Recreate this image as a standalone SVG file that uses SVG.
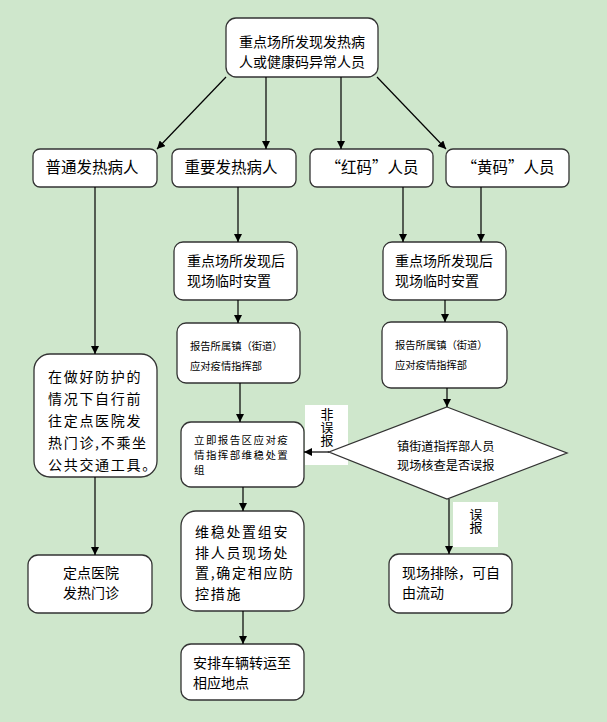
<svg xmlns="http://www.w3.org/2000/svg" width="607" height="722" viewBox="0 0 607 722">
<style>
.bx{fill:#fff;stroke:#333;stroke-width:1.3}
.t{font-family:"Noto Sans CJK SC","Liberation Sans",sans-serif;fill:#000}
.f16{font-size:15.5px}
.f14{font-size:14px}
.f14s{font-size:14px;letter-spacing:1.7px}
.f10{font-size:10.3px}
.f11{font-size:10.5px;letter-spacing:1.4px}
.f12{font-size:12.2px}
.v{font-size:13px;writing-mode:vertical-rl}
.c{stroke:#000;stroke-width:1.2;fill:none;marker-end:url(#ah)}
.lb{fill:#fff}
</style>
<defs>
<marker id="ah" viewBox="0 0 10 10" refX="10" refY="5" markerWidth="8" markerHeight="8" markerUnits="userSpaceOnUse" orient="auto">
<path d="M0,0 L10,5 L0,10 z" fill="#000"/>
</marker>
</defs>
<rect width="607" height="722" fill="#CFE7CC"/>
<g id="labels">
<g id="lbl-nonfalse"><rect class="lb" x="305" y="405" width="43" height="60"/>
<text class="t v" x="327" y="408">非误报</text></g>
<g id="lbl-false"><rect class="lb" x="453" y="502" width="45" height="45"/>
<text class="t v" x="476" y="508">误报</text></g>
</g>
<g id="n-top"><rect class="bx" x="226" y="18" width="152" height="59" rx="10"/>
<text class="t f14" x="302" y="47" text-anchor="middle">重点场所发现发热病</text>
<text class="t f14" x="302" y="66.5" text-anchor="middle">人或健康码异常人员</text></g>
<g id="n-normal"><rect class="bx" x="33" y="149" width="124" height="38" rx="7"/>
<text class="t f16" x="92" y="173" text-anchor="middle">普通发热病人</text></g>
<g id="n-important"><rect class="bx" x="172" y="149" width="124" height="38" rx="7"/>
<text class="t f16" x="231" y="173" text-anchor="middle">重要发热病人</text></g>
<g id="n-red"><rect class="bx" x="310" y="149" width="123" height="38" rx="7"/>
<text class="t f16" x="372" y="173" text-anchor="middle">“红码”人员</text></g>
<g id="n-yellow"><rect class="bx" x="446" y="149" width="123" height="38" rx="7"/>
<text class="t f16" x="508" y="173" text-anchor="middle">“黄码”人员</text></g>
<g id="n-temp-left"><rect class="bx" x="174" y="242" width="123" height="58" rx="9"/>
<text class="t f14" x="187" y="266">重点场所发现后</text>
<text class="t f14" x="187" y="286">现场临时安置</text></g>
<g id="n-temp-right"><rect class="bx" x="383" y="242" width="123" height="58" rx="9"/>
<text class="t f14" x="395" y="266">重点场所发现后</text>
<text class="t f14" x="395" y="286">现场临时安置</text></g>
<g id="n-report-left"><rect class="bx" x="177" y="323" width="123" height="60" rx="9"/>
<text class="t f10" x="190" y="350">报告所属镇（街道）</text>
<text class="t f10" x="190" y="370">应对疫情指挥部</text></g>
<g id="n-report-right"><rect class="bx" x="382" y="322" width="125" height="66" rx="9"/>
<text class="t f10" x="395" y="349">报告所属镇（街道）</text>
<text class="t f10" x="395" y="369">应对疫情指挥部</text></g>
<g id="n-self"><rect class="bx" x="34" y="354" width="123" height="123" rx="16"/>
<text class="t f14s" x="48" y="382">在做好防护的</text>
<text class="t f14s" x="48" y="404">情况下自行前</text>
<text class="t f14s" x="48" y="426">往定点医院发</text>
<text class="t f14s" x="48" y="448">热门诊,不乘坐</text>
<text class="t f14s" x="48" y="470">公共交通工具。</text></g>
<g id="n-hospital"><rect class="bx" x="28" y="555" width="124" height="58" rx="10"/>
<text class="t f14" x="91" y="578" text-anchor="middle">定点医院</text>
<text class="t f14" x="91" y="598" text-anchor="middle">发热门诊</text></g>
<g id="n-district"><rect class="bx" x="181" y="422" width="123" height="65" rx="10"/>
<text class="t f11" x="194" y="444">立即报告区应对疫</text>
<text class="t f11" x="194" y="459">情指挥部维稳处置</text>
<text class="t f11" x="194" y="474">组</text></g>
<g id="n-check"><polygon class="bx" points="447,407 567,453 447,499 329,452"/>
<text class="t f12" x="397" y="451">镇街道指挥部人员</text>
<text class="t f12" x="397" y="470">现场核查是否误报</text></g>
<g id="n-stable"><rect class="bx" x="181" y="511" width="123" height="100" rx="15"/>
<text class="t f14s" x="195" y="537">维稳处置组安</text>
<text class="t f14s" x="195" y="558">排人员现场处</text>
<text class="t f14s" x="195" y="578">置,确定相应防</text>
<text class="t f14s" x="195" y="599">控措施</text></g>
<g id="n-transport"><rect class="bx" x="181" y="644" width="123" height="56" rx="10"/>
<text class="t f14" x="193" y="668">安排车辆转运至</text>
<text class="t f14" x="193" y="688">相应地点</text></g>
<g id="n-release"><rect class="bx" x="389" y="554" width="123" height="59" rx="10"/>
<text class="t f14" x="402" y="578">现场排除，可自</text>
<text class="t f14" x="402" y="598">由流动</text></g>
<g id="connectors">
<path class="c" d="M226,77 L157,149"/>
<path class="c" d="M266,77 L266,149"/>
<path class="c" d="M341,77 L341,149"/>
<path class="c" d="M377,77 L446,149"/>
<path class="c" d="M95,187 L95,354"/>
<path class="c" d="M238,187 L238,242"/>
<path class="c" d="M403,187 L403,242"/>
<path class="c" d="M481,187 L481,242"/>
<path class="c" d="M238,300 L238,323"/>
<path class="c" d="M445,300 L445,322"/>
<path class="c" d="M240,383 L240,422"/>
<path class="c" d="M447,388 L447,407"/>
<path class="c" d="M329,452 L304,452"/>
<path class="c" d="M243,487 L243,511"/>
<path class="c" d="M95,477 L95,555"/>
<path class="c" d="M449,499 L449,554"/>
<path class="c" d="M243,611 L243,644"/>
</g>
</svg>
